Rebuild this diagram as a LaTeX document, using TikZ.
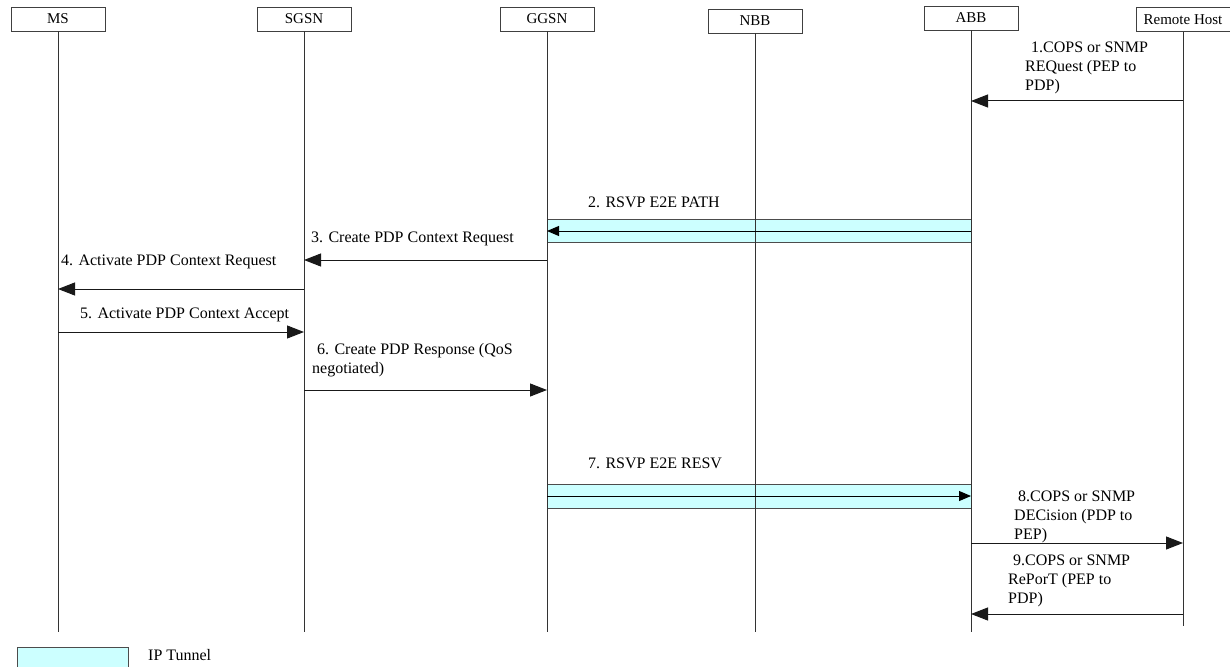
\documentclass[tikz,border=0pt]{standalone}
\usepackage{fontspec}
\setmainfont{Liberation Serif}
\usetikzlibrary{arrows.meta}
\definecolor{tunnelfill}{HTML}{CCFFFF}
\begin{document}
\begin{tikzpicture}[x=1pt,y=-1pt,
  entity/.style={draw=black!75, line width=0.8pt, fill=white, minimum width=94pt,
    minimum height=24pt, inner sep=0pt, font=\fontsize{15}{18}\selectfont},
  life/.style={draw=black!80, line width=0.9pt},
  msg/.style={draw=black!90, line width=1pt, -{Triangle[length=17pt,width=13pt]}},
  tmsg/.style={draw=black, line width=1pt, -{Triangle[length=12pt,width=10pt]}},
  tunnel/.style={draw=black!70, line width=0.9pt, fill=tunnelfill},
  lbl/.style={font=\fontsize{16}{19}\selectfont, inner sep=0pt, anchor=base west},
  mlbl/.style={font=\fontsize{16}{19}\selectfont, inner sep=0pt, anchor=north west, align=left}]

\clip (0,0) rectangle (1230,666);
\useasboundingbox (0,0) rectangle (1230,666);

% entities
\node[entity] (ms)   at (58,19)   {MS};
\node[entity] (sgsn) at (304,19)  {SGSN};
\node[entity] (ggsn) at (547,19)  {GGSN};
\node[entity] (nbb)  at (755,21)  {NBB};
\node[entity] (abb)  at (971,18)  {ABB};
\node[entity] (rh)   at (1183,19.5) {Remote Host};

% lifeline ends
\coordinate (bot) at (0,632);
\coordinate (rhbot) at (0,626);

% IP tunnels (drawn under the lifelines)
\coordinate (t2a) at (0,219);
\coordinate (t2b) at (0,242);
\coordinate (t7a) at (0,484);
\coordinate (t7b) at (0,508);
\draw[tunnel] (ggsn |- t2a) rectangle (abb |- t2b);
\draw[tunnel] (ggsn |- t7a) rectangle (abb |- t7b);

% lifelines
\foreach \e in {ms,sgsn,ggsn,nbb,abb}
  \draw[life] (\e.south) -- (\e.south |- bot);
\draw[life] (rh.south) -- (rh.south |- rhbot);

% message levels
\coordinate (y1) at (0,101);
\coordinate (y2) at (0,231);
\coordinate (y3) at (0,260);
\coordinate (y4) at (0,289);
\coordinate (y5) at (0,332);
\coordinate (y6) at (0,390);
\coordinate (y7) at (0,496);
\coordinate (y8) at (0,543);
\coordinate (y9) at (0,614);

% messages
\draw[msg]  (rh |- y1)   -- (abb |- y1);
\draw[tmsg] (abb |- y2)  -- (ggsn |- y2);
\draw[msg]  (ggsn |- y3) -- (sgsn |- y3);
\draw[msg]  (sgsn |- y4) -- (ms |- y4);
\draw[msg]  (ms |- y5)   -- (sgsn |- y5);
\draw[msg]  (sgsn |- y6) -- (ggsn |- y6);
\draw[tmsg] (ggsn |- y7) -- (abb |- y7);
\draw[msg]  (abb |- y8)  -- (rh |- y8);
\draw[msg]  (rh |- y9)   -- (abb |- y9);

% labels
\node[mlbl] (l1) at (1025,41.5) {\hspace*{6pt}1.COPS or SNMP\\REQuest (PEP to\\PDP)};
\node[lbl]  (l2) at (588,207.5) {2. RSVP E2E PATH};
\node[lbl]  (l3) at (311,242.5) {3. Create PDP Context Request};
\node[lbl]  (l4) at (61,265.5)  {4. Activate PDP Context Request};
\node[lbl]  (l5) at (80,318.5)  {5. Activate PDP Context Accept};
\node[mlbl] (l6) at (312,343)   {\hspace*{5pt}6. Create PDP Response (QoS\\negotiated)};
\node[lbl]  (l7) at (588,468.5) {7. RSVP E2E RESV};
\node[mlbl] (l8) at (1014,490.5) {\hspace*{4pt}8.COPS or SNMP\\DECision (PDP to\\PEP)};
\node[mlbl] (l9) at (1008,554.5) {\hspace*{5pt}9.COPS or SNMP\\RePorT (PEP to\\PDP)};

% legend
\node[tunnel, anchor=north west, minimum width=111pt, minimum height=30pt, inner sep=0pt] (key) at (17,647) {};
\node[lbl] (keytext) at (148,660.5) {IP Tunnel};
\end{tikzpicture}
\end{document}
